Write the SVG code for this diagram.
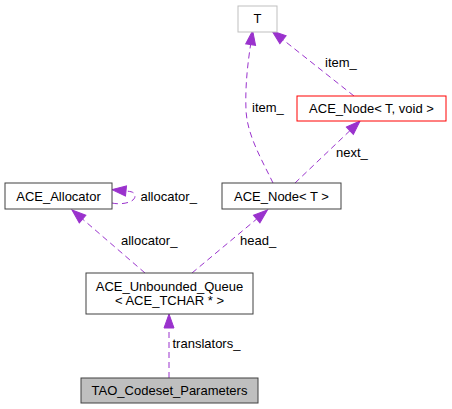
<svg xmlns="http://www.w3.org/2000/svg" width="452" height="409" viewBox="0 0 452 409">
<style>
  .node rect { fill: #ffffff; stroke: #404040; stroke-width: 1; }
  .node text { font-family: "Liberation Sans", Arial, sans-serif; font-size: 13px; fill: #000000; text-anchor: middle; }
  .edges path { fill: none; stroke: #9a32cd; stroke-width: 1; stroke-dasharray: 6,4; marker-end: url(#ah); }
  .edges text { font-family: "Liberation Sans", Arial, sans-serif; font-size: 13px; fill: #000000; }
</style>
<defs>
  <marker id="ah" markerWidth="16" markerHeight="12" refX="0" refY="5" orient="auto" markerUnits="userSpaceOnUse" overflow="visible">
    <path d="M0,0 L14,5 L0,10 z" fill="#9a32cd" stroke="#9a32cd" stroke-width="1" stroke-dasharray="none"/>
  </marker>
</defs>
<rect width="452" height="409" fill="#ffffff"/>
<g id="connectors" class="edges">
  <path d="M169,378 L169,328"/>
  <text x="172.5" y="348">translators_</text>
  <path d="M145,273 L82.6,219.1"/>
  <text x="121" y="245">allocator_</text>
  <path d="M192,273 L256.7,219"/>
  <text x="240" y="245">head_</text>
  <path d="M112,203 C120,205 135,203 135,196 C135,192 131,191.5 126,191"/>
  <text x="140.5" y="200.5">allocator_</text>
  <path d="M273,183 C262,160 247,135 246,110 C245,85 248,62 250.6,44.6"/>
  <text x="252" y="111.5">item_</text>
  <path d="M295,183 L349.9,130.7"/>
  <text x="336" y="156.5">next_</text>
  <path d="M354,96 L283,39.7"/>
  <text x="325" y="66.5">item_</text>
</g>
<g id="node-T" class="node">
  <rect x="238" y="6" width="39" height="26" style="stroke:#bfbfbf"/>
  <text x="257.5" y="23">T</text>
</g>
<g id="node-ACE_Node_T_void" class="node">
  <rect x="297" y="96" width="149" height="25" style="stroke:#ff0000"/>
  <text x="371.5" y="112.5">ACE_Node&lt; T, void &gt;</text>
</g>
<g id="node-ACE_Allocator" class="node">
  <rect x="5" y="183" width="107" height="26"/>
  <text x="58.5" y="200.5">ACE_Allocator</text>
</g>
<g id="node-ACE_Node_T" class="node">
  <rect x="222" y="183" width="119" height="26"/>
  <text x="281.5" y="200.5">ACE_Node&lt; T &gt;</text>
</g>
<g id="node-ACE_Unbounded_Queue" class="node">
  <rect x="86" y="273" width="167" height="41"/>
  <text x="169.5" y="290.5">ACE_Unbounded_Queue</text>
  <text x="169.5" y="305">&lt; ACE_TCHAR * &gt;</text>
</g>
<g id="node-TAO_Codeset_Parameters" class="node">
  <rect x="81" y="378" width="177" height="25" style="fill:#bfbfbf"/>
  <text x="169.5" y="394.5">TAO_Codeset_Parameters</text>
</g>
</svg>
